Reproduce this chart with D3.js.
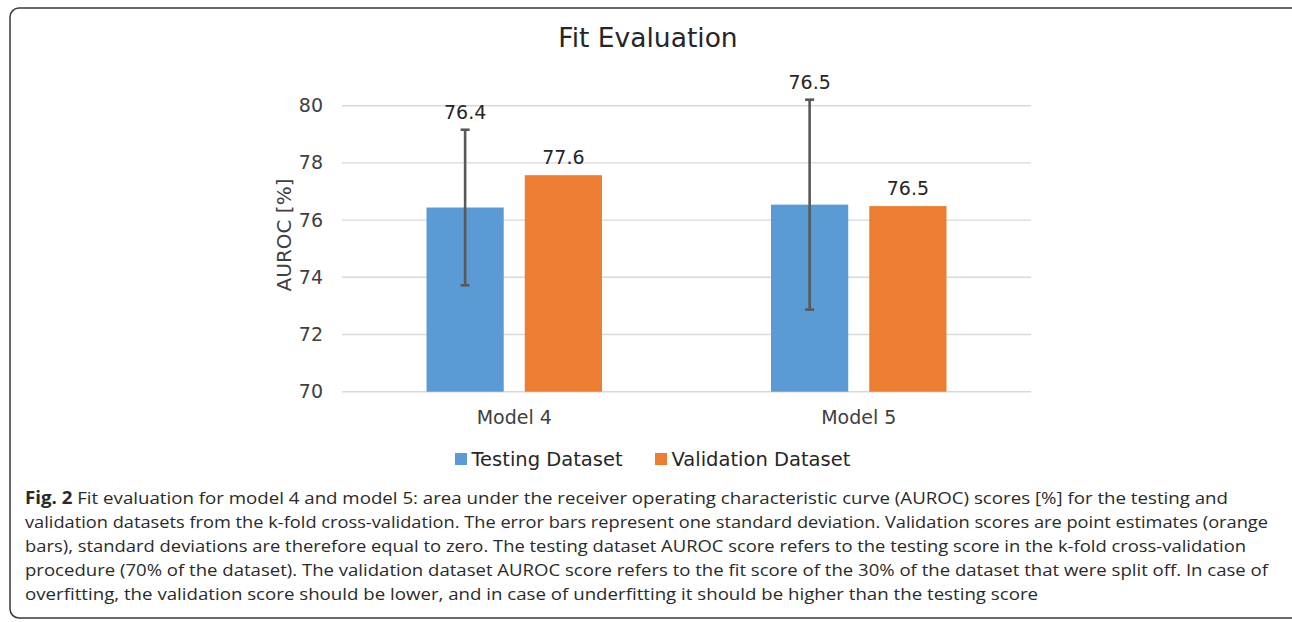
<!DOCTYPE html>
<html>
<head>
<meta charset="utf-8">
<script src="https://cdn.jsdelivr.net/npm/d3@7"></script>
<style>
  body { margin: 0; background: #fff; }
  svg { display: block; }
</style>
</head>
<body>
<div id="chart-container"></div>
<script>
// chart data
const categories = ["Model 4", "Model 5"];
const seriesNames = ["Testing Dataset", "Validation Dataset"];
const testingValues = [76.44, 76.54];
const testingSD = [2.72, 3.67];
const validationValues = [77.57, 76.49];
const yTicks = [70, 72, 74, 76, 78, 80];
const captionBold = "Fig. 2";
const captionLines = [
    " Fit evaluation for model 4 and model 5: area under the receiver operating characteristic curve (AUROC) scores [%] for the testing and",
    "validation datasets from the k-fold cross-validation. The error bars represent one standard deviation. Validation scores are point estimates (orange",
    "bars), standard deviations are therefore equal to zero. The testing dataset AUROC score refers to the testing score in the k-fold cross-validation",
    "procedure (70% of the dataset). The validation dataset AUROC score refers to the fit score of the 30% of the dataset that were split off. In case of",
    "overfitting, the validation score should be lower, and in case of underfitting it should be higher than the testing score"
];

const colors = ["#5b9bd5", "#ed7d31"];
const W = 1292, H = 622;
const plot = { left: 342, right: 1031, top: 105.7, bottom: 391.7 };
const chartFont = "'DejaVu Sans', Verdana, sans-serif";

const svg = d3.select("#chart-container")
    .append("svg")
    .attr("width", W)
    .attr("height", H);

// outer frame
svg.append("rect")
    .attr("x", 10).attr("y", 8)
    .attr("width", 1290).attr("height", 610)
    .attr("rx", 9)
    .attr("fill", "none")
    .attr("stroke", "#3a3a3a")
    .attr("stroke-width", 1.5);

// scales
const y = d3.scaleLinear().domain([70, 80]).range([plot.bottom, plot.top]);
const x0 = d3.scaleBand().domain(categories).range([plot.left, plot.right]);
const x1 = d3.scaleBand().domain(seriesNames).range([0, x0.bandwidth()])
    .paddingInner(0.214).paddingOuter(0.86);

// gridlines
svg.append("g")
    .selectAll("line")
    .data(yTicks)
    .enter()
    .append("line")
    .attr("x1", plot.left).attr("x2", plot.right)
    .attr("y1", d => y(d)).attr("y2", d => y(d))
    .attr("stroke", "#d9d9d9")
    .attr("stroke-width", 1.4);

// y axis labels
const yAxis = d3.axisLeft(y).tickValues(yTicks).tickSize(0).tickPadding(19);
const yg = svg.append("g")
    .attr("transform", "translate(" + plot.left + ",0)")
    .call(yAxis);
yg.select(".domain").remove();
yg.selectAll("text")
    .style("font-family", chartFont)
    .style("font-size", "19px")
    .attr("fill", "#404040");

// x axis labels
const xAxis = d3.axisBottom(x0).tickSize(0).tickPadding(19);
const xg = svg.append("g")
    .attr("transform", "translate(0," + plot.bottom + ")")
    .call(xAxis);
xg.select(".domain").remove();
xg.selectAll("text")
    .style("font-family", chartFont)
    .style("font-size", "19px")
    .attr("fill", "#404040");

// bars
const rows = categories.map((c, i) => ({
    cat: c,
    vals: [
        { name: seriesNames[0], v: testingValues[i], sd: testingSD[i] },
        { name: seriesNames[1], v: validationValues[i], sd: 0 }
    ]
}));

const groups = svg.selectAll(".grp")
    .data(rows)
    .enter()
    .append("g")
    .attr("class", "grp")
    .attr("transform", d => "translate(" + x0(d.cat) + ",0)");

groups.selectAll("rect")
    .data(d => d.vals)
    .enter()
    .append("rect")
    .attr("x", d => x1(d.name))
    .attr("y", d => y(d.v))
    .attr("width", x1.bandwidth())
    .attr("height", d => y(70) - y(d.v))
    .attr("fill", (d, i) => colors[i]);

// error bars
const errs = groups.selectAll(".err")
    .data(d => d.vals.filter(v => v.sd > 0))
    .enter()
    .append("g")
    .attr("class", "err")
    .attr("stroke", "#595959")
    .attr("stroke-width", 2.6);
errs.append("line")
    .attr("x1", d => x1(d.name) + x1.bandwidth() / 2)
    .attr("x2", d => x1(d.name) + x1.bandwidth() / 2)
    .attr("y1", d => y(d.v + d.sd))
    .attr("y2", d => y(d.v - d.sd));
[1, -1].forEach(s => {
    errs.append("line")
        .attr("x1", d => x1(d.name) + x1.bandwidth() / 2 - 4.5)
        .attr("x2", d => x1(d.name) + x1.bandwidth() / 2 + 4.5)
        .attr("y1", d => y(d.v + s * d.sd))
        .attr("y2", d => y(d.v + s * d.sd));
});

// data labels
groups.selectAll(".lbl")
    .data(d => d.vals)
    .enter()
    .append("text")
    .attr("class", "lbl")
    .attr("x", d => x1(d.name) + x1.bandwidth() / 2)
    .attr("y", d => y(d.v + d.sd) - 11)
    .attr("text-anchor", "middle")
    .style("font-family", chartFont)
    .style("font-size", "19px")
    .style("fill", "#262626")
    .text(d => d3.format(".1f")(d.v));

// title
svg.append("text")
    .attr("x", 648)
    .attr("y", 47)
    .attr("text-anchor", "middle")
    .style("font-family", chartFont)
    .style("font-size", "26.5px")
    .style("fill", "#262626")
    .text("Fit Evaluation");

// y axis title
svg.append("text")
    .attr("transform", "translate(291,235) rotate(-90)")
    .attr("text-anchor", "middle")
    .style("font-family", chartFont)
    .style("font-size", "20px")
    .style("fill", "#404040")
    .text("AUROC [%]");

// legend
const legendX = [455, 655];
const legend = svg.selectAll(".leg")
    .data(seriesNames)
    .enter()
    .append("g")
    .attr("class", "leg")
    .attr("transform", (d, i) => "translate(" + legendX[i] + ",453)");
legend.append("rect")
    .attr("width", 12).attr("height", 12)
    .attr("fill", (d, i) => colors[i]);
legend.append("text")
    .attr("x", 16.5).attr("y", 12.5)
    .style("font-family", chartFont)
    .style("font-size", "19.5px")
    .style("fill", "#262626")
    .text(d => d);

// caption
const captionEnds = [1228, 1268, 1246, 1268, 1038];
const cap = svg.append("g")
    .style("font-family", "'Open Sans', sans-serif")
    .style("font-size", "17px")
    .style("fill", "#2a2a2a");
captionLines.forEach((line, i) => {
    const t = cap.append("text")
        .attr("x", 25)
        .attr("y", 504 + i * 24)
        .attr("textLength", captionEnds[i] - 25)
        .attr("lengthAdjust", "spacingAndGlyphs");
    if (i === 0) {
        t.append("tspan").style("font-weight", "bold").text(captionBold);
    }
    t.append("tspan").text(line);
});
</script>
</body>
</html>
